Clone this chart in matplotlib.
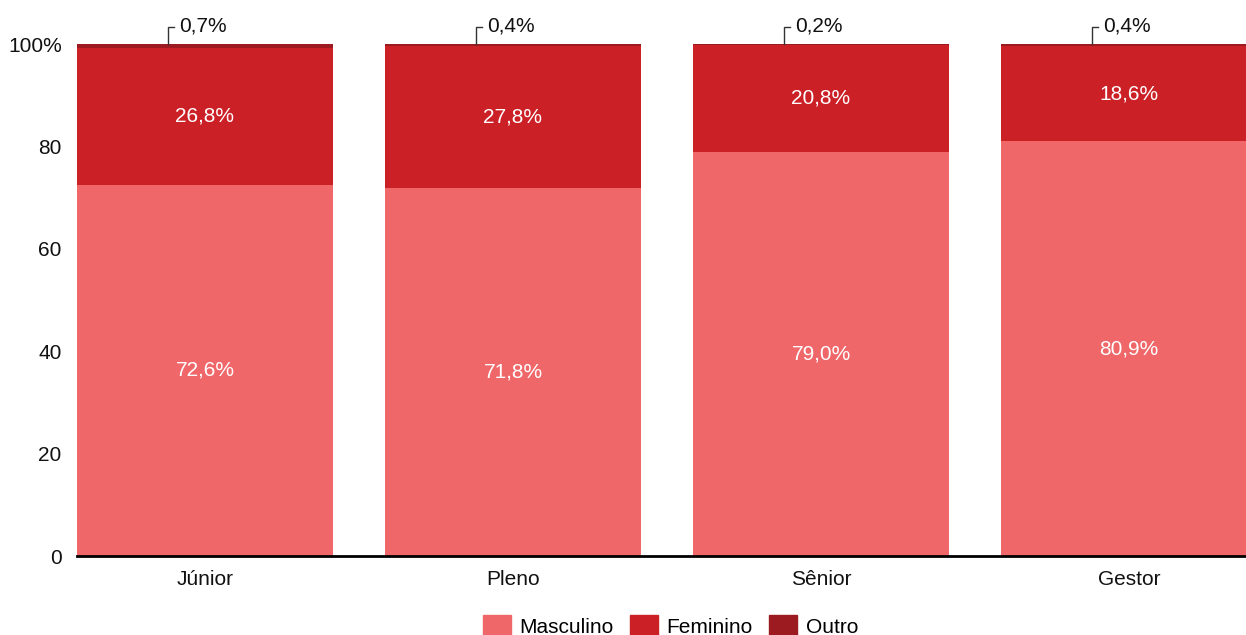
import numpy as np
import matplotlib.pyplot as plt
from matplotlib.patches import Patch

plt.rcParams['font.family'] = ['Liberation Sans', 'DejaVu Sans']

categories = ['Júnior', 'Pleno', 'Sênior', 'Gestor']
masculino = [72.6, 71.8, 79.0, 80.9]
feminino = [26.8, 27.8, 20.8, 18.6]
outro = [0.7, 0.4, 0.2, 0.4]

c_masc = '#F0676A'
c_fem = '#CC2027'
c_out = '#9B1B21'


def fmt(v):
    return f'{v:.1f}%'.replace('.', ',')


fig = plt.figure(figsize=(12.46, 6.35), dpi=100)
# a última barra é cortada pela borda direita, como no original
ax = fig.add_axes([77 / 1246, 79 / 635, 1180 / 1246, 512 / 635])

x = np.arange(len(categories))
width = 0.831

# normalizar para 100%
tot = np.array(masculino) + np.array(feminino) + np.array(outro)
m = np.array(masculino) / tot * 100
f = np.array(feminino) / tot * 100
o = np.array(outro) / tot * 100

ax.bar(x, m, width, color=c_masc, label='Masculino')
ax.bar(x, f, width, bottom=m, color=c_fem, label='Feminino')
ax.bar(x, o, width, bottom=m + f, color=c_out, label='Outro')

for i in range(len(categories)):
    ax.text(x[i], m[i] / 2, fmt(masculino[i]), ha='center', va='center',
            color='white', fontsize=15)
    ax.text(x[i], m[i] + f[i] / 2, fmt(feminino[i]), ha='center', va='center',
            color='white', fontsize=15)
    # callout do "Outro"
    cx = x[i] - 0.12
    ax.plot([cx, cx, cx + 0.018], [100, 103.4, 103.4], color='#333333',
            lw=1, clip_on=False, solid_joinstyle='miter')
    ax.text(cx + 0.036, 103.6, fmt(outro[i]), ha='left', va='center',
            fontsize=15, color='#111111', clip_on=False)

ax.set_xlim(-width / 2, len(categories) - 1 + width / 2)
ax.set_ylim(0, 100)
ax.set_yticks([0, 20, 40, 60, 80, 100])
ax.set_yticklabels(['0', '20', '40', '60', '80', '100%'])
ax.set_xticks(x)
ax.set_xticklabels(categories)
ax.tick_params(axis='both', length=0, labelsize=15, colors='#111111')
ax.tick_params(axis='y', pad=11)
ax.tick_params(axis='x', pad=10)

for s in ['top', 'right', 'left']:
    ax.spines[s].set_visible(False)
ax.spines['bottom'].set_linewidth(2)
ax.spines['bottom'].set_color('black')
ax.spines['bottom'].set_zorder(5)

handles = [Patch(color=c_masc, label='Masculino'),
           Patch(color=c_fem, label='Feminino'),
           Patch(color=c_out, label='Outro')]
fig.legend(handles=handles, loc='lower center', bbox_to_anchor=(0.538, -0.033),
           ncol=3, frameon=False, fontsize=15, handlelength=1.35,
           handleheight=1.25, handletextpad=0.4, columnspacing=0.8)

fig.savefig('out.png', dpi=100)
